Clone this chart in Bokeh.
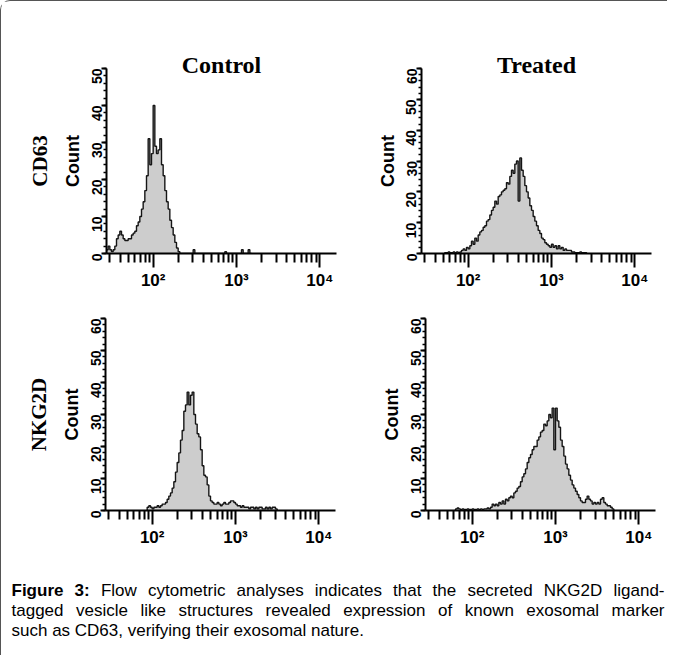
import math
import numpy as np
from bokeh.plotting import figure
from bokeh.layouts import column, row
from bokeh.models import FixedTicker, Title, Range1d
from bokeh.core.properties import value
from bokeh.embed import file_html
from bokeh.resources import INLINE

# ---------------- data ----------------
BIN = 0.02  # histogram bin width in decades (log10 units)

col_titles = ["Control", "Treated"]
row_labels = ["CD63", "NKG2D"]
x_major = [100, 1000, 10000]
x_major_labels = {100: "10\u00b2", 1000: "10\u00b3", 10000: "10\u2074"}
x_minor = [30, 40, 50, 60, 70, 80, 90,
           200, 300, 400, 500, 600, 700, 800, 900,
           2000, 3000, 4000, 5000, 6000, 7000, 8000, 9000]
y_max_cd63_ctrl = 50
y_max_other = 60

# Control / CD63 (first bin edge at 10^1.44)
ctrl_cd63_start = 1.44
ctrl_cd63_counts = [1, 2, 1, 0.5, 1, 2, 4, 5, 6, 5,
                    4, 3.5, 3.5, 4, 4, 5, 5.5, 6, 7.5, 8.5,
                    10, 12, 14, 17, 21, 31, 24, 27, 40, 29,
                    27, 28, 31, 24, 21, 17, 14, 12, 9, 7,
                    5, 3, 1.5, 0.5, 0, 0, 0, 0, 0, 0,
                    0, 0, 1, 0, 0, 0, 0, 0, 0, 0,
                    0, 0, 0, 0, 0, 0, 0, 0, 0, 0,
                    0, 0.5, 0, 0, 0, 0, 0, 0, 0, 0,
                    0, 1, 0, 0, 0, 1, 0]

# Treated / CD63
trt_cd63_start = 1.72
trt_cd63_counts = [0.3, 0.3, 0.5, 0.3, 0.3, 0.5, 0.3, 0.5, 0.3, 0.5,
                   1, 1.5, 1, 2, 1.5, 2.5, 4, 3, 5, 4,
                   6, 7, 7.5, 8.5, 9, 10.5, 11, 12.5, 14, 15,
                   17, 16, 18.5, 19, 20, 20.5, 21, 23, 22.5, 25,
                   27, 26, 29, 30, 17, 31, 27, 25, 22, 20,
                   18, 15.5, 14, 12, 10.5, 9, 7.5, 6.5, 5, 4.5,
                   3.5, 3, 2.5, 2, 3, 2, 2.5, 1.5, 2.5, 1.5,
                   2, 1, 1.5, 1, 1, 1, 0.5, 0.5, 0.3, 0.3,
                   0.3, 0.5, 0.3, 0.3, 0.3]

# Control / NKG2D
ctrl_nkg2d_start = 1.94
ctrl_nkg2d_counts = [1, 1.5, 1, 0.5, 1, 1, 1.5, 1, 1.5, 2,
                     2, 2.5, 3.5, 4.5, 5.5, 7, 9, 12, 15, 18,
                     22, 25, 31, 33, 37, 33, 36, 37, 30, 27,
                     24, 23, 19, 14, 11, 10.5, 8, 4.5, 3, 2.5,
                     2, 2, 2.5, 2, 1.5, 2, 2.5, 2, 2, 2.5,
                     3, 3, 2.5, 2, 1.5, 1.5, 1, 1.5, 1, 1,
                     1, 0.5, 1, 1, 0.5, 1, 0.5, 1, 1, 0.5,
                     0.5, 1, 0.5, 1, 0.5, 1, 1, 0.5]

# Treated / NKG2D
trt_nkg2d_start = 1.80
trt_nkg2d_counts = [0.5, 0.8, 0.5, 0.3, 0.5, 0.3, 0.3, 0.5, 0.3, 0.3,
                    0.5, 0.3, 0.3, 0.5, 0.3, 0.5, 0.3, 0.5, 0.5, 0.8,
                    0.5, 1, 2, 1.5, 2, 1.5, 2.5, 2, 3, 2,
                    3.5, 3, 4, 4.5, 4, 5.5, 6, 7, 7.5, 9,
                    10.5, 11.5, 13, 15, 16.5, 17.5, 19, 20, 20, 22,
                    23, 24.5, 25, 27, 26.5, 28, 30, 29, 32, 19,
                    32, 28, 26, 22, 20, 17, 14.5, 13, 11, 9.5,
                    8, 7, 6, 5, 4, 3, 2.5, 2.5, 3.5, 4.5,
                    3.5, 3, 2, 2.5, 2, 2.5, 2, 3.5, 4, 2.5,
                    2, 1.5, 1.5, 1, 0.5]

caption_bold = "Figure 3:"
caption_lines = [
    "Flow cytometric analyses indicates that the secreted NKG2D ligand-",
    "tagged vesicle like structures revealed expression of known exosomal marker",
    "such as CD63, verifying their exosomal nature.",
]

# ---------------- styling ----------------
X_LO, X_HI = 1.44, 4.20
FILL = "#cdcdcd"
EDGE = "#151515"
SANS = "Liberation Sans"
SERIF = "Liberation Serif"


def panel(counts, start, ymax, width, height, mbl, mbr, mbt, mbb, title=None, row_label=None):
    edges = 10 ** (start + BIN * np.arange(len(counts) + 1))
    xs = np.concatenate([[edges[0]], np.repeat(edges, 2)[1:-1], [edges[-1]]])
    ys = np.concatenate([[0], np.repeat(np.array(counts, dtype=float), 2), [0]])

    p = figure(width=width, height=height, x_axis_type="log",
               x_range=Range1d(10 ** X_LO, 10 ** X_HI), y_range=Range1d(0, ymax),
               output_backend="svg", toolbar_location=None,
               min_border_left=mbl, min_border_right=mbr,
               min_border_top=mbt, min_border_bottom=mbb)
    p.outline_line_color = None
    p.grid.visible = False
    p.background_fill_color = "white"
    p.border_fill_color = "white"

    p.varea(x=xs, y1=np.zeros_like(ys), y2=ys, fill_color=FILL)
    p.line(xs, ys, line_color=EDGE, line_width=1.4)

    xa = p.xaxis[0]
    xa.ticker = FixedTicker(ticks=x_major, minor_ticks=x_minor)
    xa.major_label_overrides = x_major_labels
    xa.major_label_text_font = SANS
    xa.major_label_text_font_style = "bold"
    xa.major_label_text_font_size = "17px"
    xa.major_label_text_color = "black"
    xa.major_label_standoff = 3
    xa.axis_line_width = 2
    xa.axis_line_color = "black"
    xa.major_tick_out = 14
    xa.major_tick_in = 0
    xa.minor_tick_out = 9
    xa.minor_tick_in = 0
    xa.major_tick_line_width = 2
    xa.minor_tick_line_width = 2
    xa.major_tick_line_color = "black"
    xa.minor_tick_line_color = "black"

    ya = p.yaxis[0]
    ya.ticker = FixedTicker(ticks=list(range(0, ymax + 1, 10)),
                            minor_ticks=list(range(0, ymax + 1, 2)))
    ya.major_label_orientation = math.pi / 2
    ya.major_label_text_font = SANS
    ya.major_label_text_font_style = "bold"
    ya.major_label_text_font_size = "14px"
    ya.major_label_text_color = "black"
    ya.major_label_standoff = 5
    ya.axis_line_width = 2
    ya.axis_line_color = "black"
    ya.major_tick_out = 5
    ya.major_tick_in = 0
    ya.minor_tick_out = 3
    ya.minor_tick_in = 0
    ya.major_tick_line_width = 2
    ya.minor_tick_line_width = 1.5
    ya.axis_label = "Count"
    ya.axis_label_text_font = SANS
    ya.axis_label_text_font_style = "bold"
    ya.axis_label_text_font_size = "18px"
    ya.axis_label_text_color = "black"
    ya.axis_label_standoff = 1

    if title:
        p.title.text = title
        p.title.align = "center"
        p.title.text_font = SERIF
        p.title.text_font_style = "bold"
        p.title.text_font_size = "24px"
        p.title.text_color = "black"
        p.title.standoff = -18
    if row_label:
        p.add_layout(Title(text=row_label, align="center", text_font=SERIF,
                           text_font_style="bold", text_font_size="21px",
                           text_color="black", standoff=15), "left")
    return p


pA = panel(ctrl_cd63_counts, ctrl_cd63_start, y_max_cd63_ctrl, 342, 292, 105, 7, 67, 40,
           title=col_titles[0], row_label=row_labels[0])
pB = panel(trt_cd63_counts, trt_cd63_start, y_max_other, 324, 292, 78, 16, 67, 40,
           title=col_titles[1])
pC = panel(ctrl_nkg2d_counts, ctrl_nkg2d_start, y_max_other, 342, 265, 104, 8, 25, 48,
           row_label=row_labels[1])
pD = panel(trt_nkg2d_counts, trt_nkg2d_start, y_max_other, 324, 265, 82, 12, 25, 48)

# ---------------- caption (justified with Arial/Liberation Sans metrics) ----------------
CAP_FS = 17.0
REG = dict(zip(" -,.:0123456789", [278, 333, 278, 278, 278] + [556] * 10))
REG.update(dict(zip("ABCDEFGHIJKLMNOPQRSTUVWXYZ",
                    [667, 667, 722, 722, 667, 611, 778, 722, 278, 500, 667, 556, 833,
                     722, 778, 667, 778, 722, 667, 611, 722, 667, 944, 667, 667, 611])))
REG.update(dict(zip("abcdefghijklmnopqrstuvwxyz",
                    [556, 556, 500, 556, 556, 278, 556, 556, 222, 222, 500, 222, 833,
                     556, 556, 556, 556, 333, 500, 278, 556, 500, 722, 500, 500, 500])))
BOLD = {"F": 611, "i": 278, "g": 611, "u": 611, "r": 389, "e": 556, "3": 556, ":": 333}


def wwidth(word, bold):
    tab = BOLD if bold else REG
    return sum(tab[c] for c in word) / 1000.0 * CAP_FS


X0, X1 = 10.0, 663.0
line_y = [32, 52, 72]
words_per_line = [[(w, True) for w in caption_bold.split()] + [(w, False) for w in caption_lines[0].split()],
                  [(w, False) for w in caption_lines[1].split()],
                  [(w, False) for w in caption_lines[2].split()]]

bx, by, bt, rx, ry, rt = [], [], [], [], [], []
for li, words in enumerate(words_per_line):
    widths = [wwidth(w, b) for w, b in words]
    if li < 2:
        gap = (X1 - X0 - sum(widths)) / (len(words) - 1)
    else:
        gap = REG[" "] / 1000.0 * CAP_FS
    x = X0
    for (w, b), wd in zip(words, widths):
        if b:
            bx.append(x); by.append(line_y[li]); bt.append(w)
        else:
            rx.append(x); ry.append(line_y[li]); rt.append(w)
        x += wd + gap

cap = figure(width=666, height=97, x_range=Range1d(0, 666), y_range=Range1d(97, 0),
             x_axis_location=None, y_axis_location=None, min_border=0,
             output_backend="svg", toolbar_location=None)
cap.outline_line_color = None
cap.grid.visible = False
cap.text(x=bx, y=by, text=bt, text_font=value(SANS), text_font_style="bold",
         text_font_size=f"{CAP_FS}px", text_color="black", text_baseline="alphabetic")
cap.text(x=rx, y=ry, text=rt, text_font=value(SANS),
         text_font_size=f"{CAP_FS}px", text_color="black", text_baseline="alphabetic")

layout = column(row(pA, pB), row(pC, pD), cap,
                styles={"border-top": "1px solid #555", "border-left": "1px solid #555",
                        "border-top-left-radius": "10px"})

open("out.html", "w").write(file_html(layout, INLINE))
